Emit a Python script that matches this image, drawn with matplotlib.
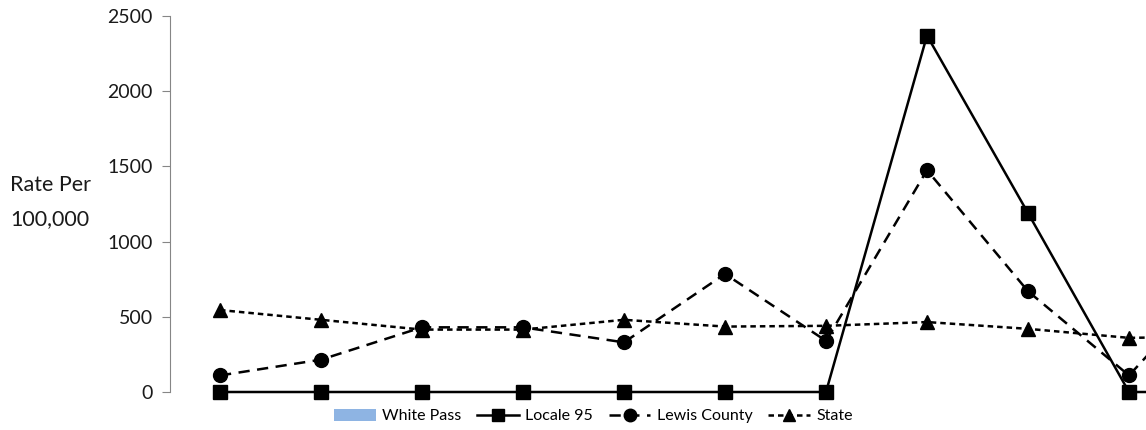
import matplotlib.pyplot as plt
from matplotlib.patches import Patch
from matplotlib.lines import Line2D

plt.rcParams['font.family'] = ['Lato', 'DejaVu Sans']

# data (the 11th point lies beyond the right edge of the picture)
positions = list(range(11))
locale_95 = [0, 0, 0, 0, 0, 0, 0, 2370, 1190, 0, 0]
lewis_county = [110, 215, 430, 430, 330, 785, 340, 1475, 670, 110, 840]
state = [545, 480, 415, 415, 480, 435, 440, 465, 420, 360, 370]
y_ticks = [0, 500, 1000, 1500, 2000, 2500]

fig = plt.figure(figsize=(11.46, 4.30), dpi=100)
# axes run past the right edge, as in the cropped original
ax = fig.add_axes([169.5 / 1146, 38 / 430, 1111 / 1146, 376 / 430])

ax.plot(positions, locale_95, color='black', lw=1.8, marker='s', ms=10, clip_on=False)
ax.plot(positions, lewis_county, color='black', lw=1.8, ls=(0, (4.5, 3)), marker='o', ms=10, clip_on=False)
ax.plot(positions, state, color='black', lw=1.8, ls=(0, (2.2, 1.6)), marker='^', ms=10, clip_on=False)

ax.set_xlim(-0.5, len(positions) - 0.5)
ax.set_ylim(0, 2500)
ax.set_yticks(y_ticks)
ax.set_xticks([])
for s in ['top', 'right', 'bottom']:
    ax.spines[s].set_visible(False)
ax.spines['left'].set_color('#868686')
ax.tick_params(axis='y', length=6, color='#868686', labelsize=14, labelcolor='#1a1a1a', pad=6)

fig.text(10 / 1146, 1 - 185 / 430, 'Rate Per', fontsize=15.5, color='#1a1a1a', va='center', ha='left')
fig.text(10 / 1146, 1 - 219 / 430, '100,000', fontsize=15.5, color='#1a1a1a', va='center', ha='left')

handles = [
    Patch(facecolor='#8EB4E3', edgecolor='none'),
    Line2D([], [], color='black', lw=1.8, marker='s', ms=9),
    Line2D([], [], color='black', lw=1.8, ls=(0, (4.5, 3)), marker='o', ms=9),
    Line2D([], [], color='black', lw=1.8, ls=(0, (2.2, 1.6)), marker='^', ms=9),
]
labels = ['White Pass', 'Locale 95', 'Lewis County', 'State']
fig.legend(handles, labels, loc='center left', bbox_to_anchor=(326 / 1146, 1 - 416 / 430),
           ncol=4, frameon=False, handlelength=2.6, handleheight=0.85,
           columnspacing=1.0, handletextpad=0.4, borderpad=0,
           prop={'size': 11.5})

fig.savefig('out.png', dpi=100)
